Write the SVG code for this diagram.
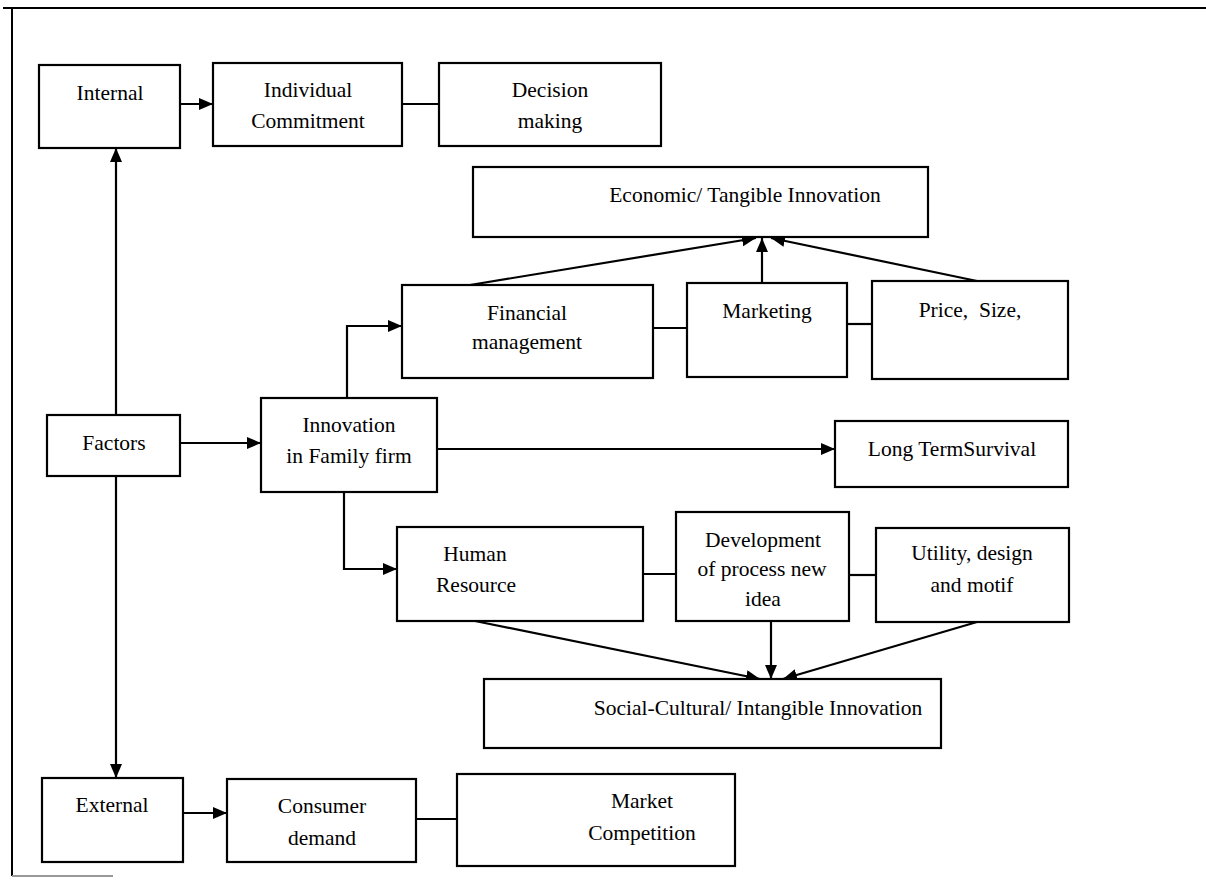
<svg xmlns="http://www.w3.org/2000/svg" width="1206" height="885" viewBox="0 0 1206 885">
<style>
.box{fill:#fff;stroke:#000;stroke-width:2.2}
.t{font-family:"Liberation Serif","Times New Roman",serif;font-size:21.5px;fill:#000;text-anchor:middle}
.c{fill:none;stroke:#000;stroke-width:2.2}
.a{fill:none;stroke:#000;stroke-width:2.2;marker-end:url(#ah)}
</style>
<defs>
<marker id="ah" markerUnits="userSpaceOnUse" markerWidth="15" markerHeight="13" refX="14" refY="6" orient="auto" viewBox="0 0 15 13">
<path d="M0,0 L14,6 L0,12 z" fill="#000"/>
</marker>
</defs>
<rect width="1206" height="885" fill="#fff"/>
<g id="frame">
<line x1="3" y1="8" x2="1206" y2="8" stroke="#000" stroke-width="2"/>
<line x1="12" y1="8" x2="12" y2="876" stroke="#000" stroke-width="2"/>
<line x1="12" y1="876" x2="113" y2="876" stroke="#999" stroke-width="2"/>
</g>
<g id="connectors">
<line class="a" x1="180" y1="104" x2="213" y2="104"/>
<line class="c" x1="402" y1="104" x2="439" y2="104"/>
<line class="a" x1="116" y1="415" x2="116" y2="148"/>
<line class="a" x1="116" y1="476" x2="116" y2="778"/>
<line class="a" x1="180" y1="443" x2="261" y2="443"/>
<polyline class="a" points="347,398 347,326 402,326"/>
<polyline class="a" points="344,492 344,569 397,569"/>
<line class="a" x1="437" y1="449" x2="835" y2="449"/>
<line class="c" x1="653" y1="328" x2="687" y2="328"/>
<line class="c" x1="847" y1="324" x2="872" y2="324"/>
<line class="a" x1="470" y1="285" x2="756" y2="238"/>
<line class="a" x1="762" y1="283" x2="762" y2="238"/>
<line class="a" x1="977" y1="281" x2="771" y2="238"/>
<line class="c" x1="643" y1="574" x2="676" y2="574"/>
<line class="c" x1="849" y1="575" x2="876" y2="575"/>
<line class="a" x1="475" y1="621" x2="760" y2="679"/>
<line class="a" x1="771" y1="621" x2="771" y2="679"/>
<line class="a" x1="977" y1="622" x2="783" y2="679"/>
<line class="a" x1="183" y1="813" x2="227" y2="813"/>
<line class="c" x1="416" y1="819" x2="457" y2="819"/>
</g>
<g id="internal"><rect class="box" x="39" y="65" width="141" height="83"/><text class="t" x="110" y="100">Internal</text></g>
<g id="individual-commitment"><rect class="box" x="213" y="63" width="189" height="83"/><text class="t" x="308" y="97">Individual</text><text class="t" x="308" y="128">Commitment</text></g>
<g id="decision-making"><rect class="box" x="439" y="63" width="222" height="83"/><text class="t" x="550" y="97">Decision</text><text class="t" x="550" y="128">making</text></g>
<g id="economic"><rect class="box" x="473" y="167" width="455" height="70"/><text class="t" x="745" y="202">Economic/ Tangible Innovation</text></g>
<g id="financial"><rect class="box" x="402" y="285" width="251" height="93"/><text class="t" x="527" y="320">Financial</text><text class="t" x="527" y="349">management</text></g>
<g id="marketing"><rect class="box" x="687" y="283" width="160" height="94"/><text class="t" x="767" y="318">Marketing</text></g>
<g id="price-size"><rect class="box" x="872" y="281" width="196" height="98"/><text class="t" x="970" y="317" xml:space="preserve">Price,  Size,</text></g>
<g id="factors"><rect class="box" x="47" y="415" width="133" height="61"/><text class="t" x="114" y="450">Factors</text></g>
<g id="innovation"><rect class="box" x="261" y="398" width="176" height="94"/><text class="t" x="349" y="432">Innovation</text><text class="t" x="349" y="463">in Family firm</text></g>
<g id="long-term-survival"><rect class="box" x="835" y="421" width="233" height="66"/><text class="t" x="952" y="456">Long TermSurvival</text></g>
<g id="human-resource"><rect class="box" x="397" y="527" width="246" height="94"/><text class="t" x="475" y="561">Human</text><text class="t" x="476" y="592">Resource</text></g>
<g id="development"><rect class="box" x="676" y="512" width="173" height="109"/><text class="t" x="763" y="547">Development</text><text class="t" x="762" y="576">of process new</text><text class="t" x="763" y="606">idea</text></g>
<g id="utility"><rect class="box" x="876" y="528" width="193" height="94"/><text class="t" x="972" y="560">Utility, design</text><text class="t" x="972" y="592">and motif</text></g>
<g id="social-cultural"><rect class="box" x="484" y="679" width="457" height="69"/><text class="t" x="758" y="715">Social-Cultural/ Intangible Innovation</text></g>
<g id="external"><rect class="box" x="42" y="778" width="141" height="84"/><text class="t" x="112" y="812">External</text></g>
<g id="consumer-demand"><rect class="box" x="227" y="779" width="189" height="83"/><text class="t" x="322" y="813">Consumer</text><text class="t" x="322" y="845">demand</text></g>
<g id="market-competition"><rect class="box" x="457" y="774" width="278" height="92"/><text class="t" x="642" y="808">Market</text><text class="t" x="642" y="840">Competition</text></g>
</svg>
